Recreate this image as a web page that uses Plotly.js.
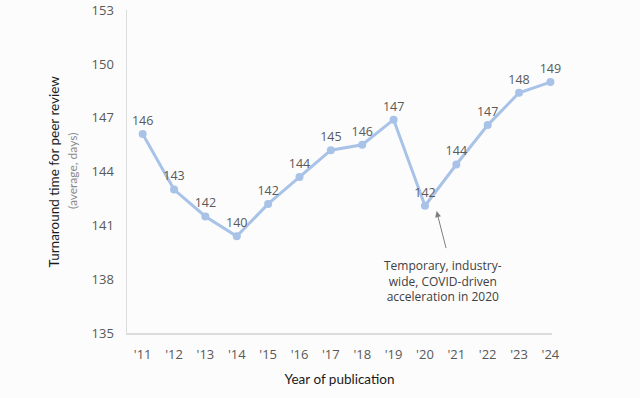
<!DOCTYPE html>
<html>
<head>
<meta charset="utf-8">
<script src="https://cdn.plot.ly/plotly-3.0.1.min.js"></script>
<style>html,body{margin:0;padding:0;background:#fcfcfd;}#chart{width:640px;height:398px;}</style>
</head>
<body>
<div id="chart"></div>
<script>
var years = ["'11","'12","'13","'14","'15","'16","'17","'18","'19","'20","'21","'22","'23","'24"];
var turnaround = [146.1, 143.0, 141.5, 140.4, 142.2, 143.7, 145.2, 145.5, 146.9, 142.1, 144.4, 146.6, 148.4, 149.0];
var pointLabels = ["146","143","142","140","142","144","145","146","147","142","144","147","148","149"];
var yTicks = [135, 138, 141, 144, 147, 150, 153];

var trace = {
  x: years,
  y: turnaround,
  text: pointLabels,
  mode: 'lines+markers+text',
  textposition: 'top center',
  textfont: {family: 'Open Sans', size: 12.5, color: '#595959'},
  line: {color: '#a8c2e8', width: 3},
  marker: {color: '#a8c2e8', size: 8},
  cliponaxis: false,
  hoverinfo: 'none'
};

var layout = {
  width: 640, height: 398,
  paper_bgcolor: '#fcfcfd', plot_bgcolor: '#fcfcfd',
  margin: {l: 127, r: 88, t: 10, b: 65},
  showlegend: false,
  xaxis: {
    type: 'category',
    range: [-0.5, 13.05],
    showgrid: false, zeroline: false,
    showline: true, linecolor: '#dcdcdc', linewidth: 1.5,
    ticks: '', ticklabelstandoff: 9,
    tickfont: {family: 'Open Sans', size: 13, color: '#595959'},
    title: {text: 'Year of publication', font: {family: 'Lato', size: 13.5, color: '#1a1a1a'}, standoff: 12}
  },
  yaxis: {
    range: [135, 153.02],
    tickvals: yTicks,
    showgrid: false, zeroline: false,
    showline: true, linecolor: '#dcdcdc', linewidth: 1.5,
    ticks: '', ticklabelstandoff: 9,
    tickfont: {family: 'Open Sans', size: 13, color: '#595959'}
  },
  annotations: [
    {xref: 'paper', yref: 'paper', x: -0.172, y: 0.5, xanchor: 'center', yanchor: 'middle',
     textangle: -90, showarrow: false,
     text: 'Turnaround time for peer review', font: {family: 'Lato', size: 13.5, color: '#1a1a1a'}},
    {xref: 'paper', yref: 'paper', x: -0.128, y: 0.5, xanchor: 'center', yanchor: 'middle',
     textangle: -90, showarrow: false,
     text: '(average, days)', font: {family: 'Lato', size: 12, color: '#8a8a8a'}},
    {xref: 'x', yref: 'y', x: 9.56, y: 137.9, xanchor: 'center', yanchor: 'middle',
     showarrow: false, align: 'center',
     text: 'Temporary, industry-<br>wide, COVID-driven<br>acceleration in 2020',
     font: {family: 'Open Sans', size: 12, color: '#404040'}},
    {xref: 'x', yref: 'y', x: 9.37, y: 141.8, text: ' ', showarrow: true,
     ax: 10, ay: 39, arrowhead: 2, arrowsize: 1.2, arrowwidth: 1, arrowcolor: '#808080',
     font: {size: 1}}
  ]
};

Plotly.newPlot('chart', [trace], layout, {displayModeBar: false, staticPlot: true});
</script>
</body>
</html>
